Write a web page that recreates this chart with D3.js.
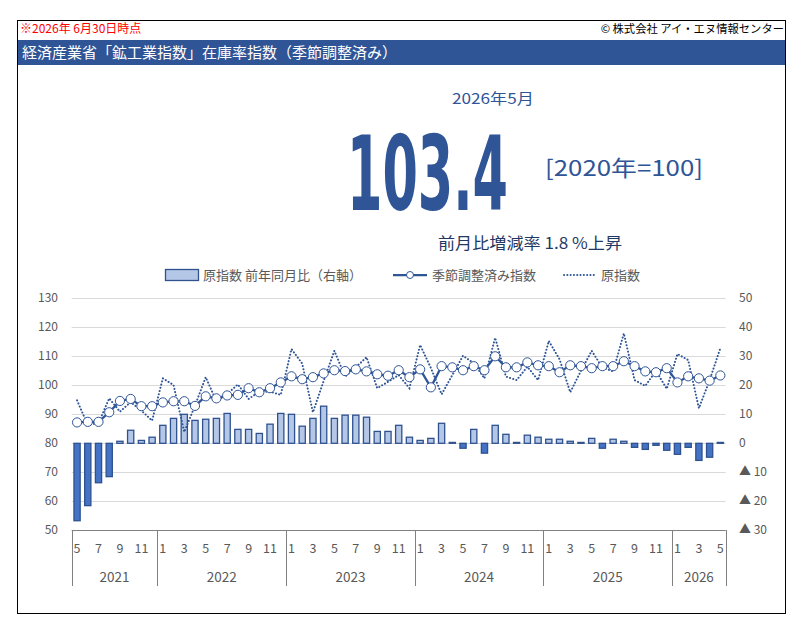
<!DOCTYPE html>
<html>
<head>
<meta charset="utf-8">
<script src="https://cdn.jsdelivr.net/npm/d3@7"></script>
<style>
  body { margin: 0; background: #fff; }
  svg text { font-family: "Noto Sans CJK JP", "Noto Sans", sans-serif; }
</style>
</head>
<body>
<div id="chart"></div>
<script>
// periods: year / month for each bar (2021-5 .. 2026-5)
const years = [2021, 2022, 2023, 2024, 2025, 2026];
const periods = [
  "2021-5","2021-6","2021-7","2021-8","2021-9","2021-10","2021-11","2021-12",
  "2022-1","2022-2","2022-3","2022-4","2022-5","2022-6","2022-7","2022-8","2022-9","2022-10","2022-11","2022-12",
  "2023-1","2023-2","2023-3","2023-4","2023-5","2023-6","2023-7","2023-8","2023-9","2023-10","2023-11","2023-12",
  "2024-1","2024-2","2024-3","2024-4","2024-5","2024-6","2024-7","2024-8","2024-9","2024-10","2024-11","2024-12",
  "2025-1","2025-2","2025-3","2025-4","2025-5","2025-6","2025-7","2025-8","2025-9","2025-10","2025-11","2025-12",
  "2026-1","2026-2","2026-3","2026-4","2026-5"
];

// 季節調整済み指数
const seasonal = [
  87.2, 87.4, 87.4, 90.7, 94.6, 95.3, 92.8, 92.8,
  94.1, 94.5, 94.5, 92.9, 96.2, 95.5, 96.5, 96.7, 99.0, 97.6, 99.0, 101.0,
  103.1, 102.1, 102.8, 104.1, 105.2, 104.9, 105.5, 104.8, 103.8, 103.3, 105.2, 102.8,
  105.5, 99.3, 106.6, 106.2, 105.2, 106.6, 105.2, 110.0, 106.2, 106.2, 107.9, 106.9,
  106.6, 104.5, 106.9, 106.6, 105.9, 106.6, 106.6, 108.3, 106.6, 104.8, 104.5, 105.9,
  101.0, 103.1, 102.4, 101.6, 103.4
];

// 原指数
const raw = [
  94.8, 86.3, 87.0, 95.5, 90.9, 94.2, 91.3, 87.8,
  102.4, 100.1, 83.9, 93.0, 102.8, 94.5, 97.0, 100.3, 95.3, 97.8, 97.8, 96.7,
  112.5, 107.5, 90.7, 101.5, 111.9, 103.0, 106.2, 109.7, 99.0, 101.2, 103.5, 99.0,
  113.9, 106.0, 96.9, 103.5, 110.2, 107.6, 102.4, 116.4, 103.0, 101.8, 106.4, 101.8,
  115.3, 109.0, 97.6, 105.0, 111.9, 106.1, 104.8, 117.9, 101.8, 99.8, 105.0, 98.8,
  110.8, 108.7, 92.1, 101.8, 112.8
];

// 原指数 前年同月比 (%)
const yoy = [
  -26.7, -21.5, -13.6, -11.5, 0.7, 4.5, 1.0, 2.1,
  6.2, 8.6, 10.0, 7.9, 8.3, 8.6, 10.3, 4.8, 4.8, 3.4, 6.6, 10.3,
  10.0, 5.9, 8.6, 12.8, 8.6, 9.7, 9.7, 9.0, 4.1, 4.1, 6.2, 2.1,
  1.0, 1.7, 6.9, 0.3, -1.7, 4.8, -3.4, 6.2, 3.1, 0.3, 2.8, 2.1,
  1.4, 1.4, 0.7, 0.3, 1.7, -1.7, 1.4, 0.7, -1.4, -2.1, -0.7, -2.4,
  -3.8, -1.4, -5.9, -4.8, 0.3
];

const leftTicks = [50, 60, 70, 80, 90, 100, 110, 120, 130];
const rightTicks = [-30, -20, -10, 0, 10, 20, 30, 40, 50];

const COLORS = {
  navy: "#2f5597",
  barPos: "#b4c7e7",
  barNeg: "#4472c4",
  barStroke: "#2f528f",
  grid: "#d9d9d9",
  axis: "#808080",
  tick: "#595959"
};

const width = 804, height = 635;
const svg = d3.select("#chart").append("svg")
  .attr("width", width).attr("height", height);

// frame + header
svg.append("rect").attr("x", 17.5).attr("y", 20.5).attr("width", 768).attr("height", 593)
  .attr("fill", "none").attr("stroke", "#000").attr("stroke-width", 1);

svg.append("text").attr("x", 20).attr("y", 33)
  .attr("fill", "#ff0000").style("font-size", "12px")
  .text("※2026年 6月30日時点");
svg.append("text").attr("x", 784).attr("y", 33).attr("text-anchor", "end")
  .attr("fill", "#000").style("font-size", "11.3px")
  .text("© 株式会社 アイ・エヌ情報センター");

svg.append("rect").attr("x", 18).attr("y", 40).attr("width", 767).attr("height", 25)
  .attr("fill", COLORS.navy);
svg.append("text").attr("x", 22).attr("y", 58)
  .attr("fill", "#fff").style("font-size", "15px")
  .text("経済産業省「鉱工業指数」在庫率指数（季節調整済み）");

// headline block
svg.append("text").attr("x", 493).attr("y", 104).attr("text-anchor", "middle")
  .attr("fill", COLORS.navy).style("font-size", "15px")
  .attr("textLength", 82).attr("lengthAdjust", "spacingAndGlyphs")
  .text("2026年5月");

// big number: small font scaled up to the tall condensed look
const big = svg.append("text")
  .attr("fill", COLORS.navy)
  .style("font-family", "'DejaVu Sans Condensed', 'Liberation Sans Narrow', sans-serif")
  .style("font-weight", "bold").style("font-size", "40px")
  .text("103.4");
const bigW = big.node().getComputedTextLength();
big.attr("transform", `translate(347,210) scale(${161 / bigW},${75 / 29.2})`);

svg.append("text").attr("x", 545).attr("y", 176)
  .attr("fill", COLORS.navy).style("font-size", "22px")
  .attr("textLength", 158).attr("lengthAdjust", "spacingAndGlyphs")
  .text("[2020年=100]");
svg.append("text").attr("x", 438).attr("y", 248.5)
  .attr("fill", "#1f3864").style("font-size", "15.5px")
  .attr("textLength", 184).attr("lengthAdjust", "spacingAndGlyphs")
  .text("前月比増減率  1.8 %上昇");

// scales
const x = d3.scaleBand().domain(periods).range([71.7, 725.7]).paddingInner(0.42).paddingOuter(0.21);
const xc = d => x(d) + x.bandwidth() / 2;
const yL = d3.scaleLinear().domain([50, 130]).range([530.3, 298.3]);
const yR = d3.scaleLinear().domain([-30, 50]).range([530.3, 298.3]);

// grid
svg.append("g").selectAll("line").data(leftTicks.slice(1)).join("line")
  .attr("x1", 71.7).attr("x2", 725.7)
  .attr("y1", d => Math.round(yL(d)) + 0.5).attr("y2", d => Math.round(yL(d)) + 0.5)
  .attr("stroke", COLORS.grid).attr("stroke-width", 1);

// left axis labels
svg.append("g").selectAll("text").data(leftTicks).join("text")
  .attr("x", 58).attr("y", d => yL(d) + 4).attr("text-anchor", "end")
  .attr("fill", COLORS.tick).style("font-size", "12px")
  .text(d => d);

// right axis labels
svg.append("g").selectAll("text").data(rightTicks).join("text")
  .attr("x", 739).attr("y", d => yR(d) + 4)
  .attr("fill", COLORS.tick).style("font-size", "12px")
  .text(d => d < 0 ? "▲ " + Math.abs(d) : d);

// bars (right axis)
svg.append("g").selectAll("rect").data(periods).join("rect")
  .attr("x", d => x(d))
  .attr("width", x.bandwidth())
  .attr("y", (d, i) => yR(Math.max(0, yoy[i])))
  .attr("height", (d, i) => Math.abs(yR(yoy[i]) - yR(0)))
  .attr("fill", (d, i) => yoy[i] < 0 ? COLORS.barNeg : COLORS.barPos)
  .attr("stroke", COLORS.barStroke).attr("stroke-width", 1.3);

// raw index (dotted)
const line = d3.line().x((d, i) => xc(periods[i])).y(d => yL(d));
svg.append("path").datum(raw)
  .attr("d", line).attr("fill", "none")
  .attr("stroke", COLORS.navy).attr("stroke-width", 2)
  .attr("stroke-dasharray", "0.1,3.2").attr("stroke-linecap", "round");

// seasonal adjusted
svg.append("path").datum(seasonal)
  .attr("d", line).attr("fill", "none")
  .attr("stroke", COLORS.navy).attr("stroke-width", 2.25);
svg.append("g").selectAll("circle").data(seasonal).join("circle")
  .attr("cx", (d, i) => xc(periods[i])).attr("cy", d => yL(d)).attr("r", 4.6)
  .attr("fill", "#fff").attr("stroke", COLORS.navy).attr("stroke-width", 1);

// category axis (month / year)
const axisG = svg.append("g");
axisG.append("line").attr("x1", 71.7).attr("x2", 725.7).attr("y1", 530.5).attr("y2", 530.5)
  .attr("stroke", COLORS.axis);
axisG.selectAll("text.month").data(periods.filter((d, i) => i % 2 === 0)).join("text")
  .attr("class", "month")
  .attr("x", xc).attr("y", 553).attr("text-anchor", "middle")
  .attr("fill", COLORS.tick).style("font-size", "12.5px")
  .text(d => d.split("-")[1]);

const yearSpan = years.map(yr => {
  const ps = periods.filter(p => p.startsWith(yr + "-"));
  return { yr, x0: x(ps[0]) - x.step() * x.paddingInner() / 2, x1: x(ps[ps.length - 1]) + x.bandwidth() + x.step() * x.paddingInner() / 2 };
});
yearSpan[0].x0 = 71.7;
yearSpan[yearSpan.length - 1].x1 = 725.7;

axisG.selectAll("line.sep").data([yearSpan[0].x0, ...yearSpan.map(s => s.x1)]).join("line")
  .attr("class", "sep")
  .attr("x1", d => Math.round(d) + 0.5).attr("x2", d => Math.round(d) + 0.5)
  .attr("y1", 530).attr("y2", 586)
  .attr("stroke", COLORS.axis);
axisG.selectAll("text.year").data(yearSpan).join("text")
  .attr("class", "year")
  .attr("x", d => (d.x0 + d.x1) / 2).attr("y", 582).attr("text-anchor", "middle")
  .attr("fill", COLORS.tick).style("font-size", "13.5px")
  .text(d => d.yr);

// legend
const lg = svg.append("g");
lg.append("rect").attr("x", 165.5).attr("y", 269.5).attr("width", 33).attr("height", 11)
  .attr("fill", COLORS.barPos).attr("stroke", COLORS.barStroke).attr("stroke-width", 1.3);
lg.append("text").attr("x", 203).attr("y", 280).attr("fill", COLORS.tick).style("font-size", "13px")
  .text("原指数 前年同月比（右軸）");
lg.append("line").attr("x1", 393).attr("x2", 427).attr("y1", 275).attr("y2", 275)
  .attr("stroke", COLORS.navy).attr("stroke-width", 2.25);
lg.append("circle").attr("cx", 410).attr("cy", 275).attr("r", 3.5)
  .attr("fill", "#fff").attr("stroke", COLORS.navy);
lg.append("text").attr("x", 432).attr("y", 280).attr("fill", COLORS.tick).style("font-size", "13px")
  .text("季節調整済み指数");
lg.append("line").attr("x1", 564).attr("x2", 597).attr("y1", 275).attr("y2", 275)
  .attr("stroke", COLORS.navy).attr("stroke-width", 2)
  .attr("stroke-dasharray", "0.1,3.2").attr("stroke-linecap", "round");
lg.append("text").attr("x", 601).attr("y", 280).attr("fill", COLORS.tick).style("font-size", "13px")
  .text("原指数");
</script>
</body>
</html>
